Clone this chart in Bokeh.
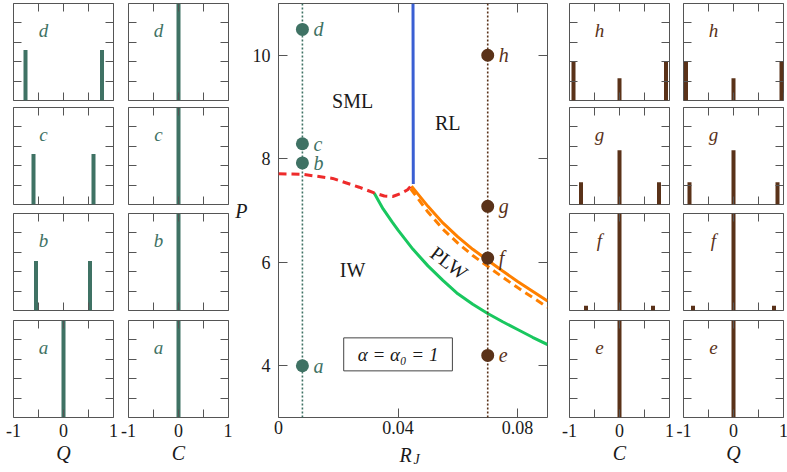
from bokeh.plotting import figure
from bokeh.models import Range1d, LinearAxis, FixedTicker, Label, Span, CustomLabelingPolicy
from bokeh.layouts import row, column
from bokeh.embed import file_html
from bokeh.resources import INLINE
from bokeh.core.properties import value

# ---------------- data ----------------
# main phase diagram (R_J on x, P on y)
rj_scan_left = 0.008
rj_scan_right = 0.07
p_left = [4.0, 7.92, 8.29, 10.5]
letters_left = ["a", "b", "c", "d"]
p_right = [4.2, 6.08, 7.08, 10.0]
letters_right = ["e", "f", "g", "h"]

blue_rj = [0.0451, 0.04505, 0.0450]
blue_p = [7.51, 9.2, 11.0]

red_rj = [0.0, 0.008, 0.0181, 0.027, 0.032, 0.0354, 0.0382, 0.041, 0.0432, 0.0448]
red_p = [7.71, 7.70, 7.62, 7.45, 7.34, 7.28, 7.27, 7.33, 7.40, 7.51]

green_rj = [0.032, 0.035, 0.038, 0.040, 0.045, 0.050, 0.055, 0.060, 0.065, 0.070, 0.075, 0.080, 0.085, 0.090]
green_p = [7.34, 7.03, 6.78, 6.62, 6.25, 5.93, 5.65, 5.39, 5.19, 5.01, 4.85, 4.70, 4.55, 4.41]

orange_rj = [0.0445, 0.050, 0.055, 0.060, 0.065, 0.070, 0.075, 0.080, 0.085, 0.090]
orange_p = [7.47, 7.08, 6.76, 6.49, 6.25, 6.04, 5.83, 5.63, 5.44, 5.25]
orange_dash_rj = [0.0442, 0.050, 0.055, 0.060, 0.065, 0.070, 0.075, 0.080, 0.085, 0.090]
orange_dash_p = [7.42, 6.97, 6.64, 6.37, 6.13, 5.92, 5.71, 5.51, 5.32, 5.13]

region_names = ["SML", "RL", "IW"]
region_rj = [0.0248, 0.0566, 0.0248]
region_p = [9.12, 8.70, 5.85]

# left scan (R_J = 0.008): distributions of Q and C
q_a_x, q_a_h = [0.0], [1.0]
q_b_x, q_b_h = [-0.55, 0.53], [0.51, 0.51]
q_c_x, q_c_h = [-0.60, 0.60], [0.52, 0.52]
q_d_x, q_d_h = [-0.76, 0.77], [0.52, 0.52]
c_a_x, c_a_h = [0.0], [1.0]
c_b_x, c_b_h = [0.0], [1.0]
c_c_x, c_c_h = [0.0], [1.0]
c_d_x, c_d_h = [0.0], [1.0]

# right scan (R_J = 0.07)
c_e_x, c_e_h = [0.0], [1.0]
c_f_x, c_f_h = [-0.67, 0.0, 0.67], [0.05, 1.0, 0.05]
c_g_x, c_g_h = [-0.77, 0.0, 0.79], [0.23, 0.56, 0.23]
c_h_x, c_h_h = [-0.92, 0.0, 0.93], [0.40, 0.23, 0.40]
q_e_x, q_e_h = [0.0], [1.0]
q_f_x, q_f_h = [-0.81, 0.0, 0.81], [0.05, 1.0, 0.05]
q_g_x, q_g_h = [-0.88, 0.0, 0.88], [0.23, 0.56, 0.23]
q_h_x, q_h_h = [-0.95, 0.0, 0.96], [0.40, 0.23, 0.40]

small_x_ticks = [-1, -0.5, 0, 0.5, 1]
small_x_labels = {-1: "-1", 0: "0", 1: "1"}
small_y_ticks = [0.2, 0.4, 0.6, 0.8]
main_x_ticks = [0, 0.04, 0.08]
main_x_labels = {0: "0", 0.04: "0.04", 0.08: "0.08"}
main_y_ticks = [4, 6, 8, 10]

# ---------------- style ----------------
FONT = "Liberation Serif"
TEAL = "#3f7264"
BROWN = "#5a3219"
FRAME = "#555555"
TXT = "#1a1a1a"
SW, SH = 100, 97  # small frame size


def no_labels():
    return CustomLabelingPolicy(code="return []")


def even_labels():
    return CustomLabelingPolicy(code="""
const out = []
for (const i of indices) { if (i % 2 == 0) out.push(i) }
return out
""")


def setup_axis(ax, ticks, show_labels=False, overrides=None, label=None, tick_len=8,
               policy=None):
    ax.ticker = FixedTicker(ticks=ticks, minor_ticks=[])
    ax.major_tick_in = tick_len
    ax.major_tick_out = 0
    ax.minor_tick_in = 0
    ax.minor_tick_out = 0
    ax.major_tick_line_color = FRAME
    ax.major_tick_line_width = 1
    ax.axis_line_color = None
    if show_labels:
        ax.major_label_text_font = FONT
        ax.major_label_text_font_size = "18px"
        ax.major_label_text_color = TXT
        ax.major_label_standoff = 6
        if overrides:
            ax.major_label_overrides = overrides
        if policy is not None:
            ax.major_label_policy = policy
    else:
        ax.major_label_text_font_size = "0px"
        ax.major_label_standoff = 0
        ax.major_label_policy = no_labels()
    if label:
        ax.axis_label = label
        ax.axis_label_text_font = FONT
        ax.axis_label_text_font_style = "italic"
        ax.axis_label_text_font_size = "20px"
        ax.axis_label_text_color = TXT
        ax.axis_label_standoff = 2
    else:
        ax.axis_label = None


def make_panel(xs, hs, color, letter, borders, xlabel=None, bar_w=0.08):
    left_b, right_b, top_b, bottom_b = borders
    p = figure(frame_width=SW, frame_height=SH,
               x_range=Range1d(-1, 1), y_range=Range1d(0, 1),
               x_axis_location=None, y_axis_location=None,
               output_backend="svg", toolbar_location=None,
               min_border_left=left_b, min_border_right=right_b,
               min_border_top=top_b, min_border_bottom=bottom_b)
    p.grid.visible = False
    p.outline_line_color = FRAME
    p.outline_line_width = 1
    p.background_fill_color = "white"
    p.border_fill_color = "white"
    bx = LinearAxis()
    setup_axis(bx, small_x_ticks, show_labels=xlabel is not None,
               overrides=small_x_labels, label=xlabel, policy=even_labels())
    p.add_layout(bx, "below")
    tx = LinearAxis()
    setup_axis(tx, small_x_ticks)
    p.add_layout(tx, "above")
    ly = LinearAxis()
    setup_axis(ly, small_y_ticks)
    p.add_layout(ly, "left")
    ry = LinearAxis()
    setup_axis(ry, small_y_ticks)
    p.add_layout(ry, "right")
    p.vbar(x=xs, top=hs, bottom=0, width=bar_w, fill_color=color, line_color=None)
    p.text(x=[-0.4], y=[0.72], text=[letter], text_font=value(FONT),
           text_font_style="italic", text_font_size="19px", text_color=color,
           text_align="center", text_baseline="middle")
    return p


# vertical borders for the four rows: (top, bottom)
ROWS = [(3, 3), (4, 4), (5, 5), (5, 52)]


def make_column(panels, color, lr, xlabel):
    figs = []
    for i, (xs, hs, letter) in enumerate(panels):
        top_b, bot_b = ROWS[i]
        figs.append(make_panel(xs, hs, color, letter, (lr[0], lr[1], top_b, bot_b),
                               xlabel=xlabel if i == 3 else None))
    return column(*figs)


colL1 = make_column([(q_d_x, q_d_h, "d"), (q_c_x, q_c_h, "c"), (q_b_x, q_b_h, "b"), (q_a_x, q_a_h, "a")],
                    TEAL, (13, 7), "Q")
colL2 = make_column([(c_d_x, c_d_h, "d"), (c_c_x, c_c_h, "c"), (c_b_x, c_b_h, "b"), (c_a_x, c_a_h, "a")],
                    TEAL, (8, 4), "C")
colR1 = make_column([(c_h_x, c_h_h, "h"), (c_g_x, c_g_h, "g"), (c_f_x, c_f_h, "f"), (c_e_x, c_e_h, "e")],
                    BROWN, (11, 7), "C")
colR2 = make_column([(q_h_x, q_h_h, "h"), (q_g_x, q_g_h, "g"), (q_f_x, q_f_h, "f"), (q_e_x, q_e_h, "e")],
                    BROWN, (7, 5), "Q")

# ---------------- main diagram ----------------
m = figure(frame_width=269, frame_height=414,
           x_range=Range1d(0, 0.09), y_range=Range1d(3, 11),
           x_axis_location=None, y_axis_location=None,
           output_backend="svg", toolbar_location=None,
           min_border_left=44, min_border_right=11, min_border_top=3, min_border_bottom=24)
m.grid.visible = False
m.outline_line_color = FRAME
m.background_fill_color = "white"
m.border_fill_color = "white"

ax = LinearAxis()
setup_axis(ax, main_x_ticks, show_labels=True, overrides=main_x_labels, tick_len=9)
ax.major_label_standoff = 3
m.add_layout(ax, "below")
ax = LinearAxis()
setup_axis(ax, main_x_ticks, tick_len=9)
m.add_layout(ax, "above")
ay = LinearAxis()
setup_axis(ay, main_y_ticks, show_labels=True, label="P", tick_len=9)
ay.major_label_standoff = 8
ay.axis_label_orientation = "horizontal"
m.add_layout(ay, "left")
ay2 = LinearAxis()
setup_axis(ay2, main_y_ticks, tick_len=9)
m.add_layout(ay2, "right")

m.add_layout(Span(location=rj_scan_left, dimension="height", line_color=TEAL,
                  line_width=1.6, line_dash="2 2"))
m.add_layout(Span(location=rj_scan_right, dimension="height", line_color=BROWN,
                  line_width=1.6, line_dash="2 2"))

m.line(green_rj, green_p, line_color="#19c75f", line_width=3)
m.line(orange_dash_rj, orange_dash_p, line_color="#ff8000", line_width=3, line_dash="8 5")
m.line(orange_rj, orange_p, line_color="#ff8000", line_width=3)
m.line(red_rj, red_p, line_color="#ee2b2b", line_width=3, line_dash="8 5")
m.line(blue_rj, blue_p, line_color="#3a5fd3", line_width=3)

m.scatter([rj_scan_left] * len(p_left), p_left, size=13, fill_color=TEAL, line_color=None)
m.scatter([rj_scan_right] * len(p_right), p_right, size=13, fill_color=BROWN, line_color=None)
m.text([rj_scan_left] * len(p_left), p_left, text=letters_left, x_offset=11,
       text_font=value(FONT), text_font_style="italic", text_font_size="20px",
       text_color=TEAL, text_align="left", text_baseline="middle")
m.text([rj_scan_right] * len(p_right), p_right, text=letters_right, x_offset=11,
       text_font=value(FONT), text_font_style="italic", text_font_size="20px",
       text_color=BROWN, text_align="left", text_baseline="middle")

m.text(region_rj, region_p, text=region_names, text_font=value(FONT),
       text_font_size="20px", text_color=TXT, text_align="center", text_baseline="middle")
m.text([0.0571], [5.99], text=["PLW"], angle=-0.65, text_font=value(FONT),
       text_font_size="20px", text_color=TXT, text_align="center", text_baseline="middle")

m.add_layout(Label(x=0.0400, y=4.22, text="α = α₀ = 1", text_font=FONT,
                   text_font_size="19px", text_font_style="italic", text_color=TXT,
                   text_align="center", text_baseline="middle",
                   border_line_color="#444444", border_line_width=1,
                   background_fill_color="white", padding=(14, 6)))

# x-axis title R_J: a text strip under the main diagram, sharing its x scale
t = figure(frame_width=269, frame_height=28,
           x_range=m.x_range, y_range=Range1d(0, 1),
           x_axis_location=None, y_axis_location=None,
           output_backend="svg", toolbar_location=None,
           min_border_left=44, min_border_right=11, min_border_top=0, min_border_bottom=0)
t.grid.visible = False
t.outline_line_color = None
t.background_fill_color = "white"
t.border_fill_color = "white"
t.text([0.0425], [0.52], text=["R"], text_font=value(FONT), text_font_style="italic",
       text_font_size="20px", text_color=TXT, text_align="center", text_baseline="middle")
t.text([0.0452], [0.37], text=["J"], text_font=value(FONT), text_font_style="italic",
       text_font_size="14px", text_color=TXT, text_align="left", text_baseline="middle")

layout = row(colL1, colL2, column(m, t), colR1, colR2)

with open("out.html", "w") as f:
    f.write(file_html(layout, INLINE))
